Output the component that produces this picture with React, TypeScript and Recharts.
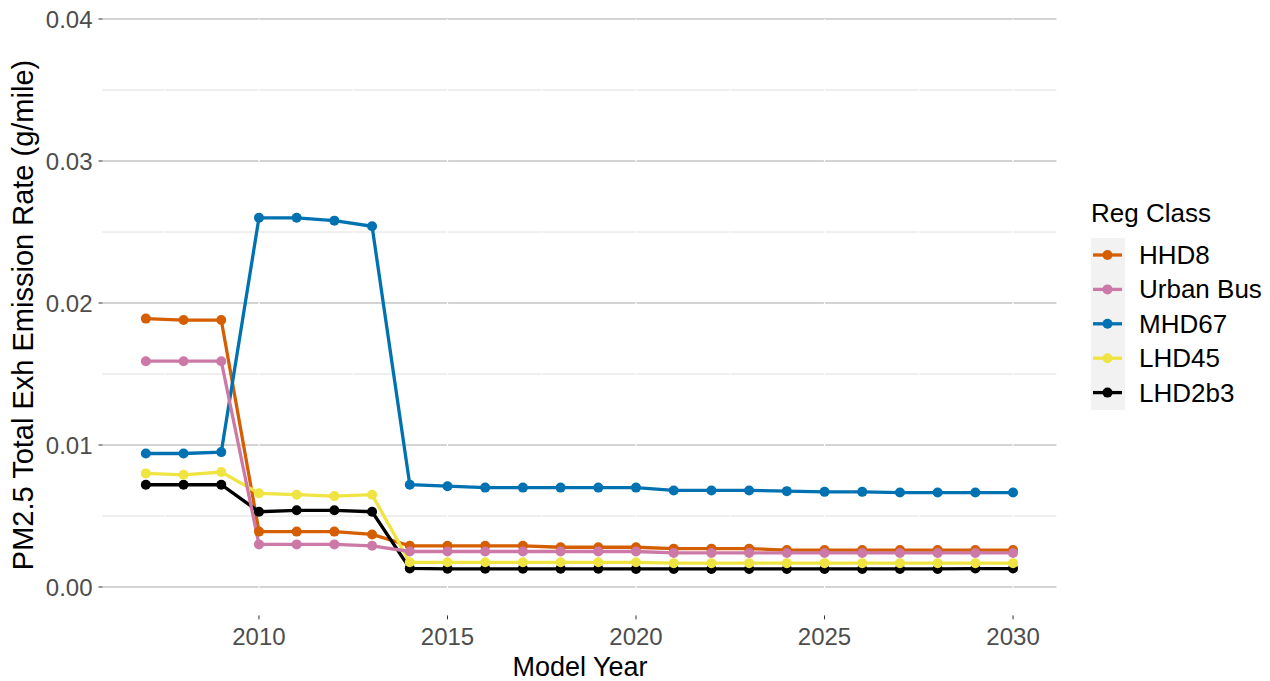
import React from "react";
import { LineChart, Line, XAxis, YAxis, ReferenceLine } from "recharts";

const years = [2007, 2008, 2009, 2010, 2011, 2012, 2013, 2014, 2015, 2016, 2017, 2018, 2019, 2020, 2021, 2022, 2023, 2024, 2025, 2026, 2027, 2028, 2029, 2030];

const hhd8 = [0.0189, 0.0188, 0.0188, 0.0039, 0.0039, 0.0039, 0.0037, 0.0029, 0.0029, 0.0029, 0.0029, 0.0028, 0.0028, 0.0028, 0.0027, 0.0027, 0.0027, 0.0026, 0.0026, 0.0026, 0.0026, 0.0026, 0.0026, 0.0026];
const urbanBus = [0.0159, 0.0159, 0.0159, 0.003, 0.003, 0.003, 0.0029, 0.0025, 0.0025, 0.0025, 0.0025, 0.0025, 0.0025, 0.0025, 0.0024, 0.0024, 0.0024, 0.0024, 0.0024, 0.0024, 0.0024, 0.0024, 0.0024, 0.0024];
const mhd67 = [0.0094, 0.0094, 0.0095, 0.026, 0.026, 0.0258, 0.0254, 0.0072, 0.0071, 0.007, 0.007, 0.007, 0.007, 0.007, 0.0068, 0.0068, 0.0068, 0.00675, 0.0067, 0.0067, 0.00665, 0.00665, 0.00665, 0.00665];
const lhd45 = [0.008, 0.0079, 0.0081, 0.0066, 0.0065, 0.0064, 0.0065, 0.00174, 0.00174, 0.00174, 0.00174, 0.00174, 0.00174, 0.00174, 0.00168, 0.00168, 0.00168, 0.00168, 0.00168, 0.00168, 0.00168, 0.00168, 0.00168, 0.00168];
const lhd2b3 = [0.0072, 0.0072, 0.0072, 0.0053, 0.0054, 0.0054, 0.0053, 0.00131, 0.00128, 0.00128, 0.00128, 0.00128, 0.00128, 0.00127, 0.00127, 0.00127, 0.00127, 0.00127, 0.00127, 0.00127, 0.00127, 0.00127, 0.0013, 0.0013];

const yTicks = [0, 0.01, 0.02, 0.03, 0.04];
const yMinor = [0.005, 0.015, 0.025, 0.035];
const xTicks = [2010, 2015, 2020, 2025, 2030];
const xMinor = [2007.5, 2012.5, 2017.5, 2022.5, 2027.5];

const legendOrder = ["HHD8", "Urban Bus", "MHD67", "LHD45", "LHD2b3"];
const colors: Record<string, string> = {
  HHD8: "#D55E00",
  "Urban Bus": "#CC79A7",
  MHD67: "#0072B2",
  LHD45: "#F0E442",
  LHD2b3: "#000000",
};
// drawing order (data order, alphabetical)
const drawOrder = ["HHD8", "LHD2b3", "LHD45", "MHD67", "Urban Bus"];

const data = years.map((y, i) => ({
  year: y,
  HHD8: hhd8[i],
  "Urban Bus": urbanBus[i],
  MHD67: mhd67[i],
  LHD45: lhd45[i],
  LHD2b3: lhd2b3[i],
}));

const FONT = "'Liberation Sans', Arial, sans-serif";

export default function App() {
  return (
    <div style={{ position: "absolute", left: 0, top: 0, width: 1270, height: 681, background: "#fff", fontFamily: FONT }}>
      <LineChart
        width={1270}
        height={681}
        data={data}
        margin={{ top: 19, right: 213.6, bottom: 5.6, left: 7.5 }}
      >
        <XAxis
          dataKey="year"
          type="number"
          domain={[2005.85, 2031.15]}
          ticks={xTicks}
          height={60}
          axisLine={false}
          tickLine={{ stroke: "#333333", strokeWidth: 1 }}
          tickSize={4}
          tickMargin={9}
          tick={{ fill: "#4d4d4d", fontSize: 24, fontFamily: FONT }}
          allowDataOverflow
        />
        <YAxis
          type="number"
          domain={[-0.002, 0.04]}
          ticks={yTicks}
          width={95}
          axisLine={false}
          tickLine={{ stroke: "#333333", strokeWidth: 1 }}
          tickSize={4}
          tickMargin={6}
          tickFormatter={(v: number) => v.toFixed(2)}
          tick={{ fill: "#4d4d4d", fontSize: 24, fontFamily: FONT }}
          allowDataOverflow
        />
        {yMinor.map((v) => (
          <ReferenceLine key={"ym" + v} y={v} stroke="#dedede" strokeWidth={1} />
        ))}
        {xMinor.map((v) => (
          <ReferenceLine key={"xm" + v} x={v} stroke="#ffffff" strokeWidth={1} />
        ))}
        {yTicks.map((v) => (
          <ReferenceLine key={"yM" + v} y={v} stroke="#c4c4c4" strokeWidth={1.4} />
        ))}
        {xTicks.map((v) => (
          <ReferenceLine key={"xM" + v} x={v} stroke="#ffffff" strokeWidth={1.2} />
        ))}
        {drawOrder.map((k) => (
          <Line
            key={"l" + k}
            dataKey={k}
            type="linear"
            stroke={colors[k]}
            strokeWidth={3.3}
            dot={false}
            activeDot={false}
            isAnimationActive={false}
          />
        ))}
        {drawOrder.map((k) => (
          <Line
            key={"p" + k}
            dataKey={k}
            type="linear"
            stroke="none"
            strokeWidth={0}
            dot={{ r: 5, fill: colors[k], stroke: "none" }}
            activeDot={false}
            legendType="none"
            isAnimationActive={false}
          />
        ))}
      </LineChart>
      <svg
        width={1270}
        height={681}
        style={{ position: "absolute", left: 0, top: 0, pointerEvents: "none" }}
      >
        <text x={580} y={676} textAnchor="middle" fontSize={27} fill="#000" fontFamily={FONT}>
          Model Year
        </text>
        <text
          transform="translate(33,315) rotate(-90)"
          x={0}
          y={0}
          textAnchor="middle"
          fontSize={29}
          fill="#000"
          fontFamily={FONT}
        >
          PM2.5 Total Exh Emission Rate (g/mile)
        </text>
        <text x={1091} y={222} fontSize={26} fill="#000" fontFamily={FONT}>
          Reg Class
        </text>
        <rect x={1091} y={238} width={34} height={172} fill="#f2f2f2" />
        {legendOrder.map((k, i) => {
          const cy = 255 + 34.4 * i;
          return (
            <g key={"lg" + k}>
              <line x1={1093} x2={1122} y1={cy} y2={cy} stroke={colors[k]} strokeWidth={3.3} />
              <circle cx={1107.5} cy={cy} r={5} fill={colors[k]} />
              <text x={1139} y={cy + 9} fontSize={26} fill="#000" fontFamily={FONT}>
                {k}
              </text>
            </g>
          );
        })}
      </svg>
    </div>
  );
}
